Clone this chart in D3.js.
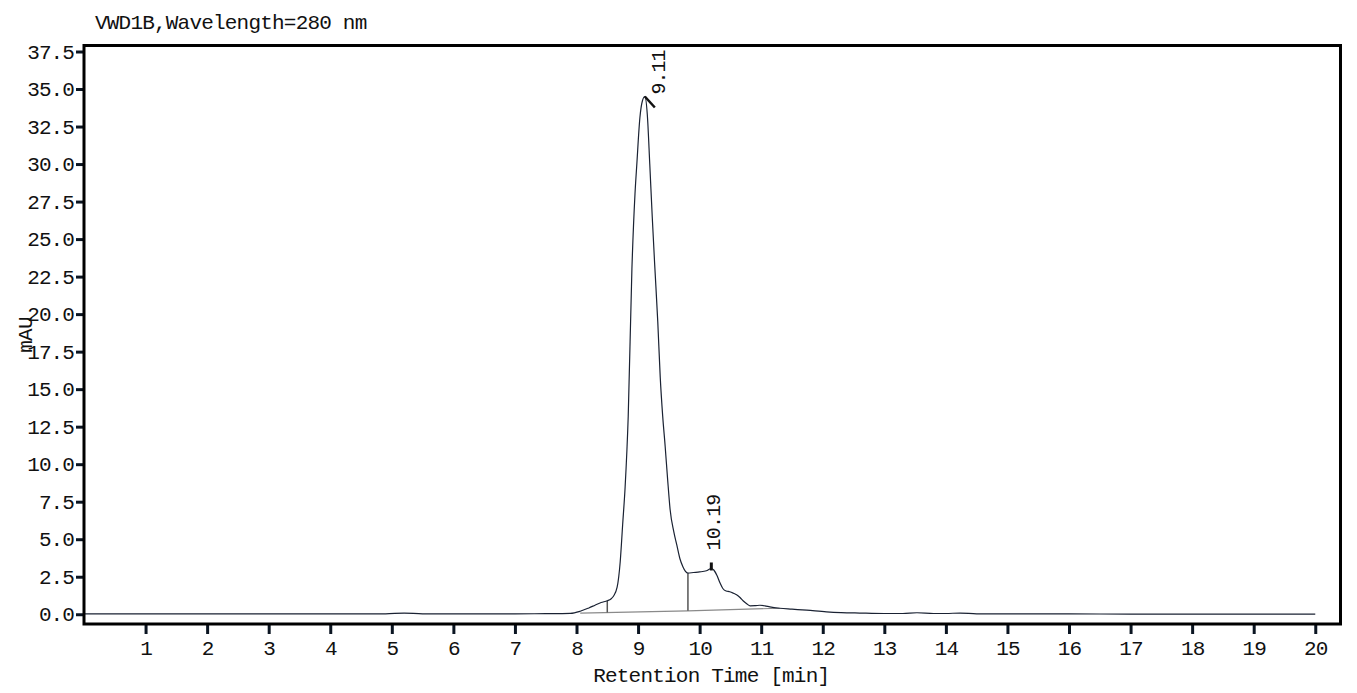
<!DOCTYPE html>
<html>
<head>
<meta charset="utf-8">
<script src="https://cdn.jsdelivr.net/npm/d3@7"></script>
<style>
  body { margin: 0; background: #fff; }
  text { font-family: "Liberation Mono", monospace; fill: #111; }
</style>
</head>
<body>
<svg id="chart" width="1357" height="693"></svg>
<script>
'use strict';

// chromatogram signal (min, mAU)
var times = [0, 1, 2, 3, 4, 4.9, 5.2, 5.5, 6, 7, 7.5, 7.9, 8.06, 8.2, 8.3, 8.4, 8.5, 8.56, 8.6, 8.66, 8.71, 8.75, 8.79,
  8.84, 8.9, 8.95, 8.98, 9.03, 9.07, 9.11, 9.15, 9.19, 9.23, 9.27, 9.32, 9.36, 9.4, 9.44, 9.48, 9.52, 9.58, 9.63,
  9.68, 9.73, 9.77, 9.81, 9.9, 10.0, 10.11, 10.19, 10.23, 10.28, 10.33, 10.38, 10.43, 10.49, 10.55, 10.6, 10.66,
  10.71, 10.77, 10.82, 10.9, 10.98, 11.06, 11.14, 11.3, 11.5, 11.74, 12.06, 12.3, 12.6, 13.0, 13.3, 13.53, 13.8,
  14.0, 14.23, 14.5, 15, 16, 17, 18, 19, 20];
var signal = [0.02, 0.02, 0.02, 0.02, 0.02, 0.03, 0.08, 0.03, 0.03, 0.03, 0.04, 0.06, 0.2, 0.42, 0.6, 0.78, 0.9, 1.02, 1.2, 1.8, 3.5, 6, 8.5,
  13.2, 23, 28, 30, 33.1, 34.2, 34.5, 33.3, 30, 26.5, 23.3, 19.5, 15.8, 13.2, 11.2, 9, 7.0, 5.5, 4.6,
  3.7, 3.15, 2.85, 2.74, 2.78, 2.82, 2.9, 3.05, 2.95, 2.6, 2.1, 1.7, 1.55, 1.5, 1.4, 1.3, 1.1,
  0.88, 0.68, 0.56, 0.57, 0.6, 0.56, 0.49, 0.4, 0.34, 0.27, 0.16, 0.11, 0.08, 0.05, 0.05, 0.1, 0.05,
  0.05, 0.08, 0.03, 0.02, 0.02, 0.01, 0.01, 0.01, 0.01];

// integration
var peakTimes = [9.11, 10.19];
var peakLabels = ['9.11', '10.19'];
var dropTimes = [8.5, 9.81];
var baseTimes = [8.06, 9.81, 11.3];
var baseValues = [0.08, 0.23, 0.4];

// axes
var xTicks = d3.range(1, 21);
var yTicks = d3.range(0, 37.6, 2.5);
var title = 'VWD1B,Wavelength=280 nm';
var xTitle = 'Retention Time [min]';
var yTitle = 'mAU';

var W = 1357, H = 693;
var margin = {top: 45.5, right: 16.5, bottom: 69, left: 84};

var svg = d3.select('#chart');

var x = d3.scaleLinear().domain([0, 20.41]).range([margin.left, W - margin.right]);
var y = d3.scaleLinear().domain([-0.65, 37.9]).range([H - margin.bottom, margin.top]);

var data = times.map(function(t, i) { return {t: t, v: signal[i]}; });
var valueAt = function(t) { return signal[times.indexOf(t)]; };
var baseAt = d3.scaleLinear().domain(baseTimes).range(baseValues);

// axes
var yAxis = svg.append('g')
    .attr('transform', 'translate(' + margin.left + ',0)')
    .call(d3.axisLeft(y).tickValues(yTicks).tickSize(8).tickPadding(2).tickFormat(d3.format('.1f')));
var xAxis = svg.append('g')
    .attr('transform', 'translate(0,' + (H - margin.bottom) + ')')
    .call(d3.axisBottom(x).tickValues(xTicks).tickSize(10));

[xAxis, yAxis].forEach(function(g) {
    g.select('.domain').remove();
    g.selectAll('line').attr('stroke', '#0b1522').attr('stroke-width', 3);
    g.selectAll('text').attr('font-size', 21).attr('letter-spacing', -0.9)
        .attr('font-family', '"Liberation Mono", monospace').attr('fill', '#111');
});
xAxis.selectAll('text').attr('y', 31).attr('dy', null);

// integration baseline and drop lines
svg.append('path')
    .datum(baseTimes)
    .attr('fill', 'none')
    .attr('stroke', '#8a8a8a')
    .attr('stroke-width', 1.2)
    .attr('d', d3.line().x(function(t) { return x(t); }).y(function(t, i) { return y(baseValues[i]); }));

svg.selectAll('.drop')
    .data(dropTimes)
    .enter().append('line')
    .attr('class', 'drop')
    .attr('x1', function(t) { return x(t); })
    .attr('x2', function(t) { return x(t); })
    .attr('y1', function(t) { return y(valueAt(t)); })
    .attr('y2', function(t) { return y(baseAt(t)); })
    .attr('stroke', '#555')
    .attr('stroke-width', 1.5);

// signal
svg.append('path')
    .datum(data)
    .attr('fill', 'none')
    .attr('stroke', '#1a2233')
    .attr('stroke-width', 1.2)
    .attr('d', d3.line().curve(d3.curveMonotoneX)
        .x(function(d) { return x(d.t); })
        .y(function(d) { return y(d.v); }));

// peak markers and labels
peakTimes.forEach(function(t, i) {
    var px = x(t), py = y(valueAt(t));
    var crowded = py - 20 - 60 < margin.top + 5;
    if (crowded) {
        svg.append('line')
            .attr('x1', px).attr('y1', py).attr('x2', px + 10).attr('y2', py + 11)
            .attr('stroke', '#111').attr('stroke-width', 2.5);
        svg.append('text')
            .attr('transform', 'translate(' + (px + 20) + ',' + (py - 2) + ') rotate(-90)')
            .attr('font-size', 20).attr('letter-spacing', -1)
            .text(peakLabels[i]);
    } else {
        svg.append('line')
            .attr('x1', px).attr('y1', py + 2).attr('x2', px).attr('y2', py - 6)
            .attr('stroke', '#111').attr('stroke-width', 3);
        svg.append('text')
            .attr('transform', 'translate(' + (px + 9) + ',' + (py - 18) + ') rotate(-90)')
            .attr('font-size', 20).attr('letter-spacing', -0.8)
            .text(peakLabels[i]);
    }
});

// frame
svg.append('rect')
    .attr('x', margin.left)
    .attr('y', margin.top)
    .attr('width', W - margin.left - margin.right)
    .attr('height', H - margin.top - margin.bottom)
    .attr('fill', 'none')
    .attr('stroke', '#000')
    .attr('stroke-width', 3);

// titles
svg.append('text')
    .attr('x', 95).attr('y', 29)
    .attr('font-size', 21).attr('letter-spacing', -0.8)
    .text(title);

svg.append('text')
    .attr('x', (x(0) + x(20.41)) / 2 - 1).attr('y', 682)
    .attr('text-anchor', 'middle')
    .attr('font-size', 21).attr('letter-spacing', -0.8)
    .text(xTitle);

svg.append('text')
    .attr('transform', 'translate(32,335) rotate(-90)')
    .attr('text-anchor', 'middle')
    .attr('font-size', 21).attr('letter-spacing', -0.8)
    .text(yTitle);
</script>
</body>
</html>
